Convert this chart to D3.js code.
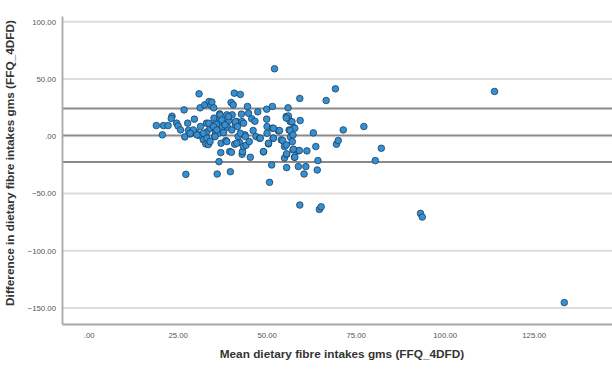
<!DOCTYPE html>
<html>
<head>
<meta charset="utf-8">
<script src="https://cdn.jsdelivr.net/npm/d3@7"></script>
<style>
  html, body { margin: 0; padding: 0; background: #fff; }
  svg { display: block; }
</style>
</head>
<body>
<div id="chart"></div>
<script>
// Mean of the two methods (x) and difference (y)
const meanValues = [
  19.0,20.7,21.0,22.3,23.4,23.2,24.7,25.1,25.8,26.8,27.0,27.3,27.8,28.0,28.5,28.9,29.7,30.2,31.0,31.3,
  31.4,31.1,32.2,32.6,32.9,33.1,33.2,33.6,33.8,34.1,34.3,34.6,34.7,35.1,35.2,35.4,35.6,35.9,36.1,36.4,
  36.6,36.8,36.9,37.1,37.2,37.6,37.9,38.2,38.5,38.8,39.0,39.4,39.6,39.8,40.0,40.1,40.3,40.6,40.9,41.0,
  41.2,41.6,42.0,42.4,42.6,42.9,43.1,43.1,43.2,43.5,43.9,44.2,44.6,44.9,45.1,45.4,45.8,46.2,46.7,47.0,
  47.5,48.0,49.1,50.0,50.0,50.1,50.1,50.5,50.8,51.4,51.6,51.6,51.8,52.2,53.3,54.1,55.0,55.0,55.5,55.6,
  55.6,56.0,56.1,56.3,56.6,56.7,57.2,57.4,57.6,57.8,58.8,58.9,59.3,59.3,59.4,60.5,61.0,61.3,63.1,63.8,
  64.2,64.4,64.8,65.3,66.7,69.3,69.6,70.1,71.5,77.3,80.5,82.2,93.2,93.7,114.0,133.6,
  33.7,35.1,36.0,36.9,37.4,38.3,39.3,40.2,41.2,41.8,42.6,43.5,44.0,32.2,33.2,34.1,35.5,29.4,30.4,28.5,
  38.8,41.6,48.2,51.9,50.5,49.1,56.1,57.1,55.5,57.9,56.6,57.4,54.5,55.5,57.5,59.2,55.6,57.9,53.6,51.9
];
const diffValues = [
  9.3,1.2,9.3,9.3,17.5,15.5,11.4,9.0,5.5,23.0,-0.6,-33.3,11.4,5.0,2.0,3.2,14.9,3.2,37.0,24.8,
  8.5,0.6,-3.2,27.4,-6.7,11.4,3.8,-7.3,30.3,7.0,27.1,29.8,9.6,24.8,15.8,0.0,4.1,10.5,-33.0,2.6,
  -22.2,19.5,14.9,-14.3,-6.1,8.5,3.2,11.4,-3.8,18.7,7.9,13.7,-13.4,-31.0,29.5,-14.0,18.7,27.4,37.6,-7.0,
  9.9,12.8,-0.3,-5.5,36.5,19.3,12.8,-15.8,-13.4,-9.0,1.2,-7.9,26.0,20.1,-4.7,-18.4,15.2,5.0,13.1,-0.3,
  21.3,-1.8,-13.7,23.6,14.9,8.5,2.6,-6.7,-40.3,-25.1,7.0,26.0,-1.8,58.9,4.7,-3.2,-9.0,-19.0,17.2,-15.8,
  -27.4,24.8,15.2,5.5,12.8,-0.9,-4.7,-12.0,7.6,-18.4,-12.8,-26.5,33.0,-60.1,13.7,-33.0,-26.5,-12.8,2.9,-9.0,
  -29.5,-21.3,-63.9,-61.6,31.2,41.4,-7.0,-3.8,5.5,8.5,-21.3,-10.5,-67.4,-70.6,39.1,-145.3,
  11.3,8.4,5.5,18.6,14.2,9.9,17.1,5.5,12.7,8.4,2.6,11.3,-0.3,2.6,-1.7,-4.7,-0.3,5.5,1.1,2.6,
  -4.7,-6.1,-1.7,-1.7,-6.1,-13.4,17.7,12.7,15.9,7.0,4.9,1.1,-3.8,-7.6,-11.3,-12.5,-15.4,-18.3,4.9,7.0
];
const xTicks = [0, 25, 50, 75, 100, 125];
const yTicks = [100, 50, 0, -50, -100, -150];
// Bland-Altman lines: upper limit, mean difference, lower limit
const refLines = [24.2, 0.8, -22.5];

const W = 612, H = 369;
const plot = { left: 62, right: 612, top: 16, bottom: 324 };

const x = d3.scaleLinear().domain([-7.5, 147]).range([plot.left, plot.right]);
const y = d3.scaleLinear().domain([-164, 105]).range([plot.bottom, plot.top]);

const fmt = v => v === 0 ? ".00" : d3.format(".2f")(v);

const svg = d3.select("#chart").append("svg")
  .attr("width", W).attr("height", H)
  .style("font-family", "'Liberation Sans', Arial, sans-serif");

// gridlines
svg.append("g").selectAll("line").data(yTicks).join("line")
  .attr("x1", plot.left).attr("x2", plot.right)
  .attr("y1", d => y(d)).attr("y2", d => y(d))
  .attr("stroke", "#dcdcdc").attr("stroke-width", 2);

// reference lines
svg.append("g").selectAll("line").data(refLines).join("line")
  .attr("x1", plot.left).attr("x2", plot.right)
  .attr("y1", d => y(d)).attr("y2", d => y(d))
  .attr("stroke", "#8a8a8a").attr("stroke-width", 1.8);

// axes
const yAxis = d3.axisLeft(y).tickValues(yTicks).tickFormat(fmt).tickSize(0).tickPadding(6);
const gy = svg.append("g").attr("transform", `translate(${plot.left},0)`).call(yAxis);
gy.select(".domain").attr("stroke", "#a8a8a8").attr("stroke-width", 1.8);
gy.selectAll("text").attr("fill", "#555").style("font-size", "7.8px");

const xAxis = d3.axisBottom(x).tickValues(xTicks).tickFormat(fmt).tickSize(0).tickPadding(8);
const gx = svg.append("g").attr("transform", `translate(0,${plot.bottom})`).call(xAxis);
gx.select(".domain").attr("stroke", "#a8a8a8").attr("stroke-width", 1.8);
gx.selectAll("text").attr("fill", "#555").style("font-size", "7.8px");

// points
svg.append("g").selectAll("circle").data(meanValues.map((m, i) => [m, diffValues[i]])).join("circle")
  .attr("cx", d => x(d[0])).attr("cy", d => y(d[1])).attr("r", 3.3)
  .attr("fill", "#3490d3").attr("stroke", "#1d4060").attr("stroke-width", 0.8);

// axis titles
svg.append("text")
  .attr("x", 342).attr("y", 358).attr("text-anchor", "middle")
  .attr("fill", "#333").style("font-size", "11.8px").style("font-weight", "bold")
  .text("Mean dietary fibre intakes gms (FFQ_4DFD)");
svg.append("text")
  .attr("transform", "translate(14,163) rotate(-90)").attr("text-anchor", "middle")
  .attr("fill", "#333").style("font-size", "11.8px").style("font-weight", "bold")
  .text("Difference in dietary fibre intakes gms (FFQ_4DFD)");
</script>
</body>
</html>
